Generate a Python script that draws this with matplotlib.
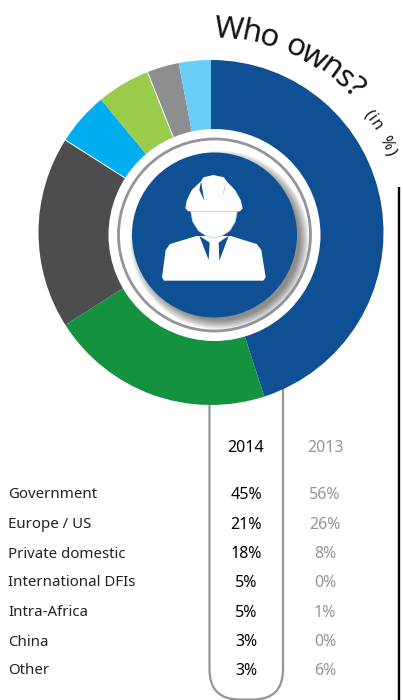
import numpy as np
import matplotlib
matplotlib.use("Agg")
import matplotlib.pyplot as plt
from matplotlib.patches import Circle, Polygon, PathPatch
from matplotlib.path import Path

owners = ["Government", "Europe / US", "Private domestic", "International DFIs", "Intra-Africa", "China", "Other"]
share_2014 = [45, 21, 18, 5, 5, 3, 3]
share_2013 = [56, 26, 8, 0, 1, 0, 6]
years = ["2014", "2013"]
slice_colors = ["#0F5095", "#15923F", "#4D4D4F", "#00AEEF", "#9BCB4B", "#8C8E90", "#68CEF6"]

plt.rcParams['font.family'] = ['Noto Sans', 'DejaVu Sans']
W, H = 403, 700
fig = plt.figure(figsize=(W/100, H/100), dpi=100)
ax = fig.add_axes([0, 0, 1, 1])
Y = lambda py: H - py
BLUE, GREY = "#0F5095", "#939598"

# pill behind the pie
l, r, b, top, rad = 209.5, 283, 699.5, 300, 30
verts = [(l, Y(top)), (l, Y(b-rad)), (l, Y(b)), (l+rad, Y(b)), (r-rad, Y(b)), (r, Y(b)), (r, Y(b-rad)), (r, Y(top))]
codes = [Path.MOVETO, Path.LINETO, Path.CURVE3, Path.CURVE3, Path.LINETO, Path.CURVE3, Path.CURVE3, Path.LINETO]
ax.add_patch(PathPatch(Path(verts, codes), fc="none", ec=GREY, lw=1.6, zorder=1))

# right-hand rule
ax.plot([398.5, 398.5], [Y(187), Y(700)], color="black", lw=1.7, zorder=1, solid_capstyle="butt")

# donut
cx, cy, R = 211, 232.5, 172.5
wedges, _ = ax.pie(share_2014, colors=slice_colors, startangle=90, counterclock=False,
                   center=(cx, Y(cy)), radius=R, wedgeprops=dict(lw=0, zorder=2))
cum = np.cumsum(share_2014)
for i in (2, 4):
    a = np.deg2rad(cum[i]*3.6)
    ax.plot([cx, cx+R*np.sin(a)], [Y(cy), Y(cy-R*np.cos(a))], color="white", lw=0.7, zorder=3)

# hub
hx, hy = 214.5, 235
ax.add_patch(Circle((hx, Y(hy)), 106, fc="white", ec="none", zorder=4))
ring = Circle((hx, Y(hy)), 96, fc="white", ec=GREY, lw=2.0, zorder=5)
ax.add_patch(ring)
for s in np.linspace(89.5, 80, 14):
    c = Circle((hx+5.0, Y(hy+5.0)), s, fc="black", ec="none", alpha=0.04, zorder=6)
    ax.add_patch(c)
    c.set_clip_path(Circle((hx, Y(hy)), 95, transform=ax.transData))
ax.add_patch(Circle((hx, Y(hy)), 82.5, fc=BLUE, ec="none", zorder=7))

# worker icon (zoom coordinates of the artwork)
def P(pts):
    return [(100+x/3, Y(140+y/3)) for x, y in pts]
hat = [(256,205),(260,182),(275,150),(303,124),(310,112),(340,105),(372,112),(380,124),(405,150),(422,180),(428,205),(420,214),(265,214)]
face = [(272,214),(278,245),(295,272),(318,288),(342,294),(366,288),(390,272),(406,245),(412,214)]
body = [(186,412),(197,330),(210,312),(290,288),(392,288),(470,312),(484,330),(497,412),(490,422),(192,422)]
gap_l = [(298,288),(326,360),(329,308),(314,298)]
gap_r = [(386,288),(358,362),(356,308),(370,298)]
slit_l = [(303,124),(313,182),(298,150)]
slit_r = [(380,124),(367,172),(372,150)]
for pts, col, z in [(hat,"white",8),(face,"white",8),(body,"white",8),(gap_l,BLUE,9),(gap_r,BLUE,9),(slit_l,BLUE,9),(slit_r,BLUE,9)]:
    ax.add_patch(Polygon(P(pts), closed=True, fc=col, ec="none", zorder=z))
ax.add_patch(Polygon(P(face), closed=False, fc="none", ec="#A9C4E0", lw=0.5, zorder=9))

# curved title
def arc_text(text, a0, a1, rad, size, weight="light"):
    renderer = fig.canvas.get_renderer()
    widths = []
    for ch in text:
        t = ax.text(0, 0, ch if ch != " " else "n", fontsize=size, fontweight=weight)
        widths.append(t.get_window_extent(renderer).width * (0.5 if ch == " " else 1))
        t.remove()
    total = sum(widths)
    pos = 0.0
    for ch, w in zip(text, widths):
        a = np.deg2rad(a0 + (a1-a0)*(pos + w/2)/total)
        pos += w
        if ch == " ":
            continue
        ax.text(cx+rad*np.sin(a), Y(cy-rad*np.cos(a)), ch, fontsize=size, fontweight=weight,
                rotation=-np.rad2deg(a), rotation_mode="anchor", ha="center", va="baseline",
                color="#111111", zorder=10)
arc_text("Who owns?", 1, 46.5, 195, 22.5)
arc_text("(in %)", 52, 67, 192.5, 11.5)

# table
col_x = [246, 325]
header_y = 448
row_y = [495, 525, 554, 583, 613, 642, 671]
txt = dict(va="center", zorder=10)
ax.text(col_x[0], Y(header_y), years[0], ha="center", fontsize=11.5, fontweight="bold", color="black", **txt)
ax.text(col_x[1], Y(header_y), years[1], ha="center", fontsize=11.5, fontweight="bold", color=GREY, **txt)
for name, v14, v13, py in zip(owners, share_2014, share_2013, row_y):
    ax.text(8, Y(py), name, ha="left", fontsize=10.8, color="#222222", **txt)
    ax.text(col_x[0], Y(py), f"{v14}%", ha="center", fontsize=11.5, fontweight="bold", color="black", **txt)
    ax.text(col_x[1], Y(py), f"{v13}%", ha="center", fontsize=11.5, fontweight="bold", color=GREY, **txt)

ax.set_xlim(0, W)
ax.set_ylim(0, H)
ax.set_aspect("equal")
ax.axis("off")
fig.savefig("out.png", dpi=100, facecolor="white")
